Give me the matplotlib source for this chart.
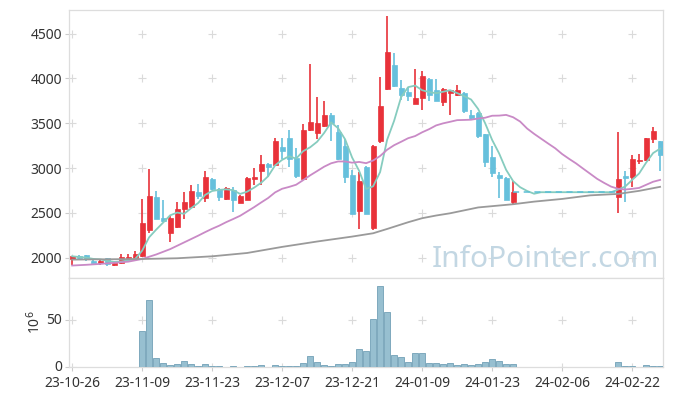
import numpy as np
import pandas as pd
import matplotlib
matplotlib.use("Agg")
import matplotlib.pyplot as plt
import matplotlib.transforms as mtransforms

# ---------------- data ----------------
opens = [1990, 2015, 2025, 1965, 1940, 1995, 1920, 1940, 1990, 1990,
         2020, 2310, 2675, 2440, 2280, 2345, 2540, 2560, 2735, 2670,
         2880, 2770, 2650, 2760, 2615, 2645, 2880, 2970, 3045, 3030,
         3235, 3335, 3110, 2880, 3420, 3395, 3470, 3590, 3405, 3250,
         2925, 2520, 3015, 2330, 3305, 3885, 4150, 3890, 3845, 3715,
         3785, 3995, 3870, 3740, 3842, 3810, 3840, 3595, 3615, 3380,
         3125, 2925, 2890, 2625,
         2675, 2908, 2895, 3080, 3085, 3320, 3300]
highs = [2020, 2030, 2030, 1970, 1985, 2000, 1950, 2040, 2045, 2070,
         2655, 2990, 2745, 2645, 2465, 2620, 2730, 2810, 2820, 2965,
         2885, 2780, 2790, 2790, 2700, 2895, 3000, 3140, 3055, 3335,
         3330, 3425, 3220, 3490, 4160, 3790, 3750, 3615, 3480, 3320,
         2980, 2960, 3020, 3260, 4015, 4700, 4280, 3985, 3900, 4105,
         4085, 4000, 3990, 3890, 3870, 3925, 3845, 3650, 3620, 3385,
         3245, 2950, 2895, 2850,
         3405, 2970, 3145, 3157, 3340, 3455, 3305]
lows = [1920, 1985, 1965, 1940, 1920, 1910, 1910, 1930, 1985, 1985,
        2010, 2270, 2430, 2400, 2170, 2330, 2435, 2555, 2650, 2625,
        2755, 2630, 2645, 2505, 2605, 2640, 2810, 2810, 2905, 3025,
        3100, 3015, 2885, 2875, 3410, 3325, 3460, 3305, 3090, 2830,
        2485, 2325, 2485, 2310, 3275, 3870, 3905, 3760, 3750, 3710,
        3650, 3750, 3745, 3695, 3590, 3805, 3610, 3535, 3335, 3015,
        2900, 2665, 2640, 2585,
        2495, 2620, 2790, 3040, 3080, 3275, 2970]
closes = [2015, 2000, 1985, 1945, 1962, 1928, 1942, 2005, 2010, 2040,
          2390, 2690, 2430, 2405, 2445, 2545, 2620, 2745, 2690, 2900,
          2765, 2680, 2775, 2645, 2690, 2890, 2905, 3045, 3010, 3300,
          3195, 3105, 2915, 3425, 3515, 3505, 3595, 3505, 3100, 2895,
          2490, 2855, 2490, 3250, 3690, 4290, 3915, 3810, 3805, 3780,
          4030, 3810, 3750, 3885, 3865, 3870, 3640, 3560, 3360, 3070,
          2940, 2885, 2645, 2730,
          2880, 2893, 3100, 3090, 3335, 3415, 3140]
volumes = [0.3, 0.3, 0.3, 0.2, 0.2, 0.3, 0.2, 0.4, 0.3, 0.5,
           38.3, 71.3, 9.6, 4.3, 2.1, 3.2, 6.4, 3.2, 1.5, 3.2,
           1.1, 1.1, 0.5, 1.0, 0.5, 1.0, 1.0, 2.0, 0.5, 2.0,
           1.0, 1.0, 1.0, 4.3, 11.7, 5.3, 2.0, 1.0, 3.2, 3.2,
           5.3, 19.1, 17.0, 51.0, 86.5, 58.5, 12.8, 10.6, 5.3, 14.9,
           14.9, 4.3, 4.3, 3.2, 4.3, 2.1, 3.2, 2.1, 3.2, 5.3,
           9.2, 6.4, 3.2, 3.2,
           5.3, 1.0, 1.0, 0.3, 2.1, 1.0, 1.0]
days_before_gap = 64     # trading days with data before the halt
gap_days = 14            # trading days without data

tick_labels = ['23-10-26', '23-11-09', '23-11-23', '23-12-07', '23-12-21',
               '24-01-09', '24-01-23', '24-02-06', '24-02-22']

# 20-day MA at the very start (needs history before the window)
ma20_lead_idx = [0, 2, 4, 6, 8, 10, 12, 14, 16, 18]
ma20_lead = [1912, 1920, 1930, 1942, 1955, 1985, 2035, 2095, 2170, 2245]
# long-term moving average line
ma_long_idx = [0, 5, 10, 15, 20, 25, 30, 35, 40, 43, 45, 48, 50, 52, 54,
               58, 63, 66, 70, 74, 78, 81, 84]
ma_long = [1978, 1982, 1985, 1993, 2015, 2052, 2120, 2180, 2235, 2272, 2320,
           2395, 2440, 2470, 2495, 2560, 2596, 2625, 2655, 2695, 2711, 2745, 2790]

# ---------------- derived ----------------
n = len(closes)
xs = np.r_[np.arange(days_before_gap),
           np.arange(days_before_gap + gap_days, n + gap_days)]
total = n + gap_days
full_close = pd.Series(np.nan, index=np.arange(total))
full_close[xs] = closes
ff = full_close.ffill()
ma5 = ff.rolling(5, min_periods=1).mean()
ma20 = ff.rolling(20).mean()
ma20_x = np.r_[ma20_lead_idx, np.arange(19, total)]
ma20_y = np.r_[ma20_lead, ma20.values[19:]]

o = np.array(opens, float); c = np.array(closes, float)
h = np.array(highs, float); l = np.array(lows, float)
up = c >= o
RED = '#e8323a'
BLUE = '#66c0dc'
cols = np.where(up, RED, BLUE)

plt.rcParams['font.family'] = ['Noto Sans', 'DejaVu Sans']
fig = plt.figure(figsize=(6.73, 3.96), dpi=100)
ax = fig.add_axes([0.1025, 0.298, 0.8825, 0.677])
axv = fig.add_axes([0.1025, 0.0725, 0.8825, 0.2255], sharex=ax)

# watermark
ax.text(0.993, 0.015, 'InfoPointer.com', transform=ax.transAxes,
        ha='right', va='bottom', fontsize=21.5, color='#c3d7e3', zorder=1)

# grid crosses
xt = np.arange(0, total, 10)
pyt = np.arange(2000, 4501, 500)
for xv in xt:
    ax.plot([xv] * len(pyt), pyt, ls='none', marker='+', ms=6, mew=0.8,
            color='#dadada', zorder=0)
    axv.plot([xv, xv], [0, 50], ls='none', marker='+', ms=6, mew=0.8,
             color='#dadada', zorder=0)

# candles
ax.vlines(xs, l, h, colors=cols, lw=1.2, zorder=3)
body = np.maximum(np.abs(c - o), 12)
ax.bar(xs, body, bottom=np.minimum(o, c), width=0.72, color=cols,
       edgecolor=cols, linewidth=0.5, zorder=4)

# moving averages
ax.plot(np.arange(total), ma5.values, color='#86ccbf', lw=1.3, zorder=5)
ax.plot(ma20_x, ma20_y, color='#c98ac6', lw=1.3, zorder=5)
ax.plot(ma_long_idx, ma_long, color='#9a9a9a', lw=1.3, zorder=5)

# dashed line across the halt
last = days_before_gap - 1
ax.plot([last, last + gap_days + 1], [closes[last], closes[last]],
        ls=(0, (4, 3)), color='#5bbfd6', lw=1.1, zorder=5)

ax.set_ylim(1773, 4764)
ax.set_yticks(pyt)
ax.set_xlim(-0.45, 84.4)
ax.tick_params(axis='x', bottom=False, labelbottom=False)

# volume
axv.bar(xs, volumes, width=0.95, color='#97bfd0', edgecolor='#7ea9bd',
        linewidth=0.7, zorder=3)
axv.set_ylim(0, 95)
axv.set_yticks([0, 50])
axv.set_xticks(xt)
axv.set_xticklabels(tick_labels)
axv.set_ylabel('10$^6$', fontsize=10, color='#333333', labelpad=2)

for a in (ax, axv):
    for s in a.spines.values():
        s.set_color('#dddddd')
        s.set_linewidth(0.9)
    a.tick_params(length=3, color='#cccccc', labelcolor='#333333',
                  labelsize=10, pad=2)
    a.set_facecolor('white')
axv.tick_params(axis='x', pad=3.5)
shift = mtransforms.ScaledTranslation(0, 2 / 100, fig.dpi_scale_trans)
for t in axv.yaxis.get_majorticklabels():
    t.set_transform(t.get_transform() + shift)

fig.savefig('out.png', dpi=100)
